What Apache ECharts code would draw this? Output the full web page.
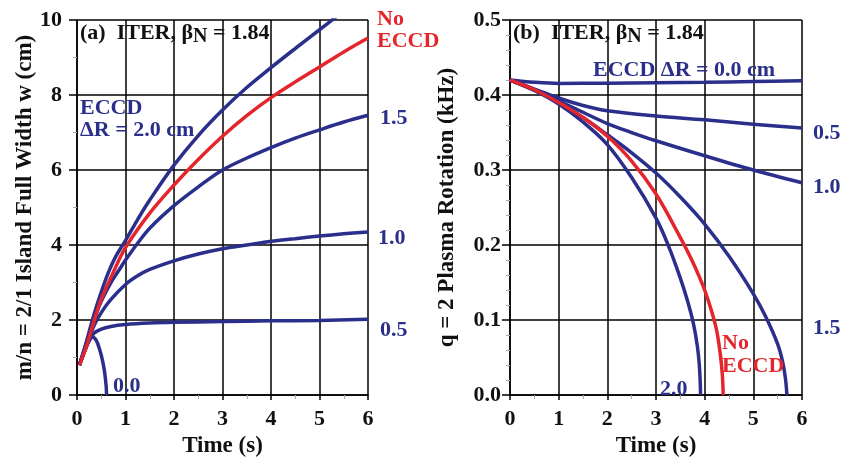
<!DOCTYPE html>
<html>
<head>
<meta charset="utf-8">
<script src="https://cdn.jsdelivr.net/npm/echarts@6/dist/echarts.min.js"></script>
<style>
  html, body { margin: 0; padding: 0; background: #fff; }
  #main { width: 843px; height: 463px; }
</style>
</head>
<body>
<div id="main"></div>
<script>
// ---- data ----
var xTicks = [0, 1, 2, 3, 4, 5, 6];

// (a) island full width w (cm) vs time (s)
var wNoEccd = [[0.05,0.8],[0.2,1.32],[0.35,1.97],[0.5,2.55],[0.75,3.28],[1,3.93],[1.5,4.85],[2,5.6],[2.5,6.28],[3,6.9],[3.5,7.45],[4,7.93],[4.5,8.35],[5,8.75],[5.5,9.15],[6,9.52]];
var wDr20 = [[0.05,0.8],[0.2,1.45],[0.35,2.15],[0.5,2.75],[0.65,3.28],[0.8,3.7],[1,4.12],[1.25,4.68],[1.5,5.2],[2,6.13],[2.5,6.92],[3,7.6],[3.5,8.2],[4,8.73],[4.5,9.24],[5,9.74],[5.25,9.99],[5.5,10.24]];
var wDr15 = [[0.05,0.8],[0.2,1.4],[0.35,2.0],[0.5,2.5],[0.7,3.0],[0.85,3.3],[1,3.6],[1.25,4.05],[1.5,4.45],[2,5.05],[2.5,5.55],[3,6.0],[3.5,6.32],[4,6.6],[4.5,6.85],[5,7.07],[5.5,7.28],[6,7.46]];
var wDr10 = [[0.05,0.8],[0.2,1.35],[0.35,1.85],[0.5,2.2],[0.7,2.55],[1,2.95],[1.25,3.18],[1.5,3.35],[2,3.58],[2.5,3.76],[3,3.9],[3.5,4.0],[4,4.1],[4.5,4.17],[5,4.24],[5.5,4.3],[6,4.35]];
var wDr05 = [[0.05,0.8],[0.15,1.15],[0.25,1.45],[0.35,1.65],[0.5,1.76],[0.7,1.83],[1,1.88],[1.5,1.92],[2,1.94],[3,1.96],[4,1.98],[5,1.99],[6,2.02]];
var wDr00 = [[0.05,0.8],[0.15,1.15],[0.25,1.45],[0.32,1.55],[0.4,1.45],[0.47,1.2],[0.53,0.9],[0.57,0.6],[0.6,0.25],[0.61,0]];

// (b) q=2 plasma rotation (kHz) vs time (s)
var fDr00 = [[0,0.42],[0.5,0.417],[1,0.4155],[2,0.4158],[3,0.4165],[4,0.417],[5,0.418],[6,0.419]];
var fDr05 = [[0,0.42],[0.5,0.408],[1,0.396],[1.5,0.386],[2,0.379],[3,0.372],[4,0.367],[5,0.361],[6,0.356]];
var fDr10 = [[0,0.42],[0.5,0.407],[1,0.392],[1.5,0.377],[2,0.362],[2.5,0.35],[3,0.339],[4,0.319],[5,0.3],[6,0.283]];
var fDr15 = [[0,0.42],[0.5,0.407],[1,0.39],[1.5,0.37],[2,0.347],[2.5,0.323],[3,0.296],[3.5,0.264],[4,0.228],[4.5,0.185],[5,0.135],[5.25,0.105],[5.5,0.068],[5.6,0.045],[5.66,0.022],[5.69,0]];
var fNoEccd = [[0,0.42],[0.5,0.407],[1,0.39],[1.5,0.37],[2,0.345],[2.5,0.312],[3,0.268],[3.5,0.21],[3.75,0.178],[4,0.14],[4.15,0.11],[4.25,0.085],[4.32,0.055],[4.36,0.03],[4.375,0.012],[4.38,0]];
var fDr20 = [[0,0.42],[0.5,0.406],[1,0.388],[1.5,0.364],[2,0.334],[2.5,0.29],[3,0.236],[3.25,0.2],[3.5,0.156],[3.65,0.125],[3.77,0.095],[3.85,0.065],[3.89,0.04],[3.91,0.015],[3.915,0]];

var BLUE = '#2b2f8c';
var RED = '#e4262c';
var FONT = '"Liberation Serif", "DejaVu Serif", serif';

var chart = echarts.init(document.getElementById('main'));

function xAxis(gi) {
  return {
    type: 'value', gridIndex: gi, min: 0, max: 6, interval: 1,
    name: 'Time (s)', nameLocation: 'middle', nameGap: 30,
    nameTextStyle: { fontFamily: FONT, fontWeight: 'bold', fontSize: 23, color: '#111' },
    axisLine: { show: true, onZero: false, lineStyle: { color: '#000', width: 1.5 } },
    axisTick: { show: true, length: 5, lineStyle: { color: '#000', width: 1.5 } },
    minorTick: { show: true, splitNumber: 2, length: 4, lineStyle: { color: '#aaa' } },
    axisLabel: { fontFamily: FONT, fontWeight: 'bold', fontSize: 22, color: '#111', margin: 13 },
    splitLine: { show: true, lineStyle: { color: '#000', width: 1.5 } }
  };
}

function yAxis(gi, max, interval, minorSplit, name, gap, margin, fmt) {
  return {
    type: 'value', gridIndex: gi, min: 0, max: max, interval: interval,
    name: name, nameLocation: 'middle', nameGap: gap,
    nameTextStyle: { fontFamily: FONT, fontWeight: 'bold', fontSize: 23, color: '#111' },
    axisLine: { show: true, lineStyle: { color: '#000', width: 1.5 } },
    axisTick: { show: true, length: 8, lineStyle: { color: '#000', width: 1.5 } },
    minorTick: { show: true, splitNumber: minorSplit, length: 4, lineStyle: { color: '#aaa' } },
    axisLabel: { fontFamily: FONT, fontWeight: 'bold', fontSize: 22, color: '#111', margin: margin, formatter: fmt },
    splitLine: { show: true, lineStyle: { color: '#000', width: 1.5 } }
  };
}

function curve(gi, data, color) {
  return {
    type: 'line', xAxisIndex: gi, yAxisIndex: gi, data: data,
    showSymbol: false, smooth: 0.35, clip: true,
    lineStyle: { color: color, width: 3.5 }, z: 3
  };
}

function label(x, y, text, color) {
  return {
    type: 'text', x: x, y: y, z: 10,
    style: { text: text, fill: color, font: 'bold 22px ' + FONT, textVerticalAlign: 'middle' }
  };
}

function panelTitle(x, y, tag) {
  return {
    type: 'text', x: x, y: y, z: 10,
    style: {
      text: tag + '  ITER, β{n|N} = 1.84',
      fill: '#111', font: 'bold 22px ' + FONT, textVerticalAlign: 'middle',
      rich: { n: { fontFamily: FONT, fontWeight: 'bold', fontSize: 20, padding: [8, 0, 0, 0], fill: '#111' } }
    }
  };
}

var option = {
  backgroundColor: '#fff',
  animation: false,
  grid: [
    { left: 77, right: 475, top: 20, bottom: 56 },
    { left: 510, right: 41, top: 20, bottom: 56 }
  ],
  xAxis: [xAxis(0), xAxis(1)],
  yAxis: [
    yAxis(0, 10, 2, 2, 'm/n = 2/1 Island Full Width w (cm)', 40, 15, function (v) { return String(v); }),
    yAxis(1, 0.5, 0.1, 5, 'q = 2 Plasma Rotation (kHz)', 51, 9, function (v) { return v.toFixed(1); })
  ],
  series: [
    curve(0, wDr20, BLUE),
    curve(0, wDr15, BLUE),
    curve(0, wDr10, BLUE),
    curve(0, wDr05, BLUE),
    curve(0, wDr00, BLUE),
    curve(0, wNoEccd, RED),
    curve(1, fDr00, BLUE),
    curve(1, fDr05, BLUE),
    curve(1, fDr10, BLUE),
    curve(1, fDr15, BLUE),
    curve(1, fDr20, BLUE),
    curve(1, fNoEccd, RED)
  ],
  graphic: [
    panelTitle(80, 33, '(a)'),
    label(377, 19, 'No', RED),
    label(377, 41, 'ECCD', RED),
    label(380, 118, '1.5', BLUE),
    label(378, 238, '1.0', BLUE),
    label(380, 330, '0.5', BLUE),
    label(113, 386, '0.0', BLUE),
    label(80, 108, 'ECCD', BLUE),
    label(80, 130, 'ΔR = 2.0 cm', BLUE),

    panelTitle(513, 33, '(b)'),
    label(593, 70, 'ECCD ΔR = 0.0 cm', BLUE),
    label(813, 133, '0.5', BLUE),
    label(813, 187, '1.0', BLUE),
    label(813, 328, '1.5', BLUE),
    label(722, 343, 'No', RED),
    label(722, 366, 'ECCD', RED),
    label(660, 389, '2.0', BLUE)
  ]
};

chart.setOption(option);
</script>
</body>
</html>
